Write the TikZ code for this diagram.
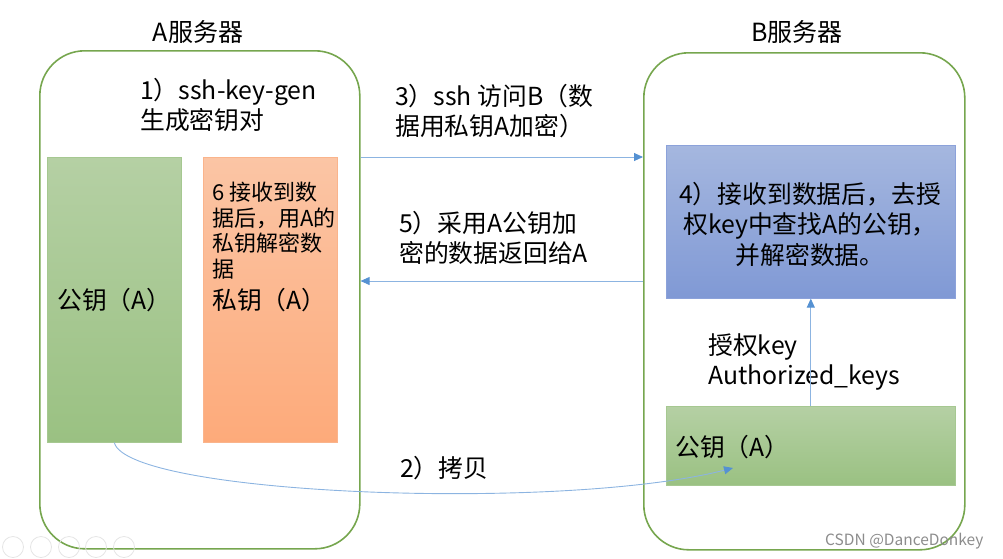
\documentclass[tikz,border=0pt]{standalone}
\usepackage{fontspec}
\setmainfont{Noto Sans CJK SC}
\usetikzlibrary{arrows.meta,calc}
\definecolor{srvgreen}{RGB}{118,166,78}
\definecolor{gtop}{RGB}{181,208,164}
\definecolor{gbot}{RGB}{154,193,130}
\definecolor{gline}{RGB}{166,200,145}
\definecolor{otop}{RGB}{251,197,165}
\definecolor{obot}{RGB}{253,170,122}
\definecolor{oline}{RGB}{250,180,140}
\definecolor{btop}{RGB}{165,183,223}
\definecolor{bbot}{RGB}{128,153,213}
\definecolor{bline}{RGB}{140,162,218}
\definecolor{arr}{RGB}{140,180,225}
\definecolor{arrhead}{RGB}{85,145,210}
\tikzset{
  server/.style={draw=srvgreen, line width=1.6pt, rounded corners=45pt, anchor=north west, inner sep=0pt},
  greenbox/.style={draw=gline, line width=0.6pt, top color=gtop, bottom color=gbot, anchor=north west, inner sep=0pt},
  orangebox/.style={draw=oline, line width=0.6pt, top color=otop, bottom color=obot, anchor=north west, inner sep=0pt},
  bluebox/.style={draw=bline, line width=0.6pt, top color=btop, bottom color=bbot, anchor=north west, inner sep=0pt},
  conn/.style={draw=arr, line width=0.9pt, -{Triangle[length=9pt,width=8pt,color=arrhead]}},
  big/.style={font=\fontsize{24.8}{30.5}\selectfont, inner sep=0pt},
  small/.style={font=\fontsize{22}{25.5}\selectfont, inner sep=0pt},
  title/.style={font=\fontsize{25}{30}\selectfont, inner sep=0pt},
}
\begin{document}
\begin{tikzpicture}[x=1pt,y=-1pt]
\useasboundingbox (0,0) rectangle (1003,558);
% servers
\node[server, minimum width=320pt, minimum height=498pt] (srvA) at (39,50) {};
\node[server, minimum width=321pt, minimum height=497pt] (srvB) at (643,52) {};
\node[title] (titleA) at (198,32) {A服务器};
\node[title] (titleB) at (797,32) {B服务器};
% server A content
\node[big, anchor=west, align=left] (step1) at (140,105) {1）ssh-key-gen\\生成密钥对};
\node[greenbox, minimum width=134pt, minimum height=285pt] (pubA) at (47,157) {};
\node[big, anchor=west] (pubAtxt) at (57,300) {公钥（A）};
\node[orangebox, minimum width=134pt, minimum height=285pt] (privA) at (203,157) {};
\node[small, anchor=north west, align=left] (step6) at (212,182) {6 接收到数\\据后，用A的\\私钥解密数\\据};
\node[big, anchor=west] (privAtxt) at (212,300) {私钥（A）};
% server B content
\node[bluebox, minimum width=289pt, minimum height=153pt] (blue) at (666,145) {};
\node[big, align=center] (step4) at (810,224) {4）接收到数据后，去授\\权key中查找A的公钥，\\并解密数据。};
\node[greenbox, minimum width=289pt, minimum height=79pt] (pubB) at (666,406) {};
\node[big, anchor=west] (pubBtxt) at (675,447) {公钥（A）};
\node[big, anchor=west, align=left] (authkeys) at (708,362) {授权key\\Authorized\_keys};
% middle labels
\node[big, anchor=west, align=left] (step3) at (395,111) {3）ssh 访问B（数\\据用私钥A加密）};
\node[big, anchor=west, align=left] (step5) at (399,238) {5）采用A公钥加\\密的数据返回给A};
\node[big, anchor=west] (step2) at (400,468) {2）拷贝};
% connectors
\coordinate (y281) at (0,281);
\coordinate (copyend) at (733,468);
\draw[conn] (srvA.east |- pubA.north) -- (srvB.west |- pubA.north);
\draw[conn] (srvB.west |- y281) -- (srvA.east |- y281);
\draw[conn] (pubB.north -| blue.south) -- (blue.south);
\draw[conn] (pubA.south) .. controls (128,495) and (560,512) .. (copyend);
% watermark / overlay
\node[font=\fontsize{15.5}{18}\selectfont, text=black!45, anchor=west, inner sep=0pt] (wm) at (825,541) {CSDN @DanceDonkey};
\foreach \i/\cx in {1/13,2/41,3/69,4/96,5/124}
  \draw[black!10, line width=0.8pt] (\cx,547) circle (10.5pt);
\end{tikzpicture}
\end{document}
